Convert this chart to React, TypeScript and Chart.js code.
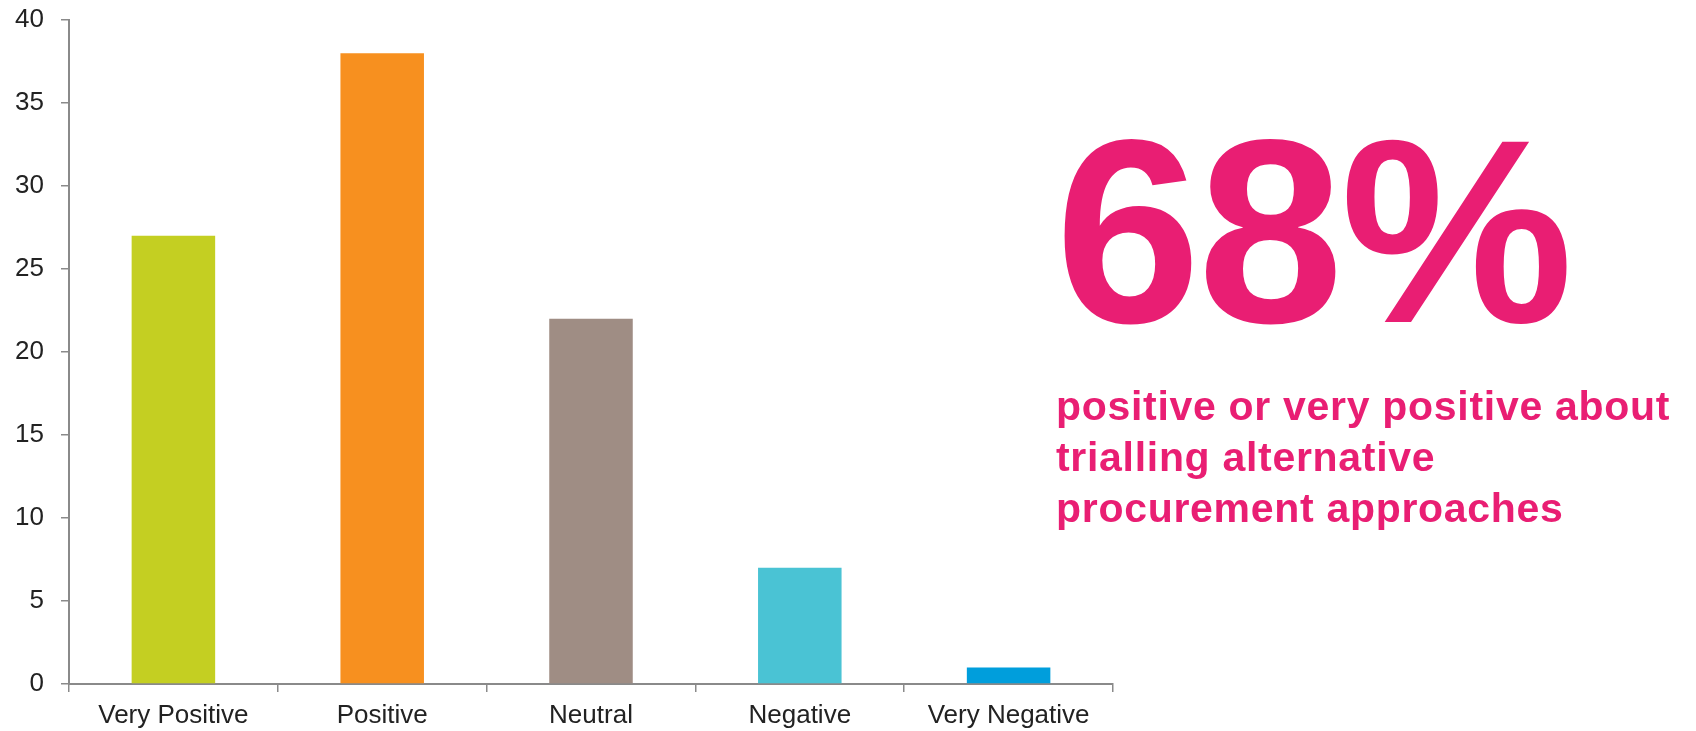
import React, { useEffect, useRef } from "react";
import { Chart, registerables } from "chart.js";

Chart.register(...registerables);

const categories = ["Very Positive", "Positive", "Neutral", "Negative", "Very Negative"];
const responses = [27, 38, 22, 7, 1];
const barColors = ["#C4CF22", "#F7901F", "#9F8D84", "#4AC3D4", "#009EDC"];
const yMin = 0;
const yMax = 40;
const yStep = 5;
const headline = "68%";
const blurbLines = [
  "positive or very positive about",
  "trialling alternative",
  "procurement approaches",
];

const FONT = "'Liberation Sans', Arial, Helvetica, sans-serif";
const PINK = "#E91E73";
const AXIS = "#8A8A8A";
const LABEL = "#222222";

export default function App() {
  const canvasRef = useRef<HTMLCanvasElement | null>(null);

  useEffect(() => {
    const canvas = canvasRef.current;
    if (!canvas) return;
    const chart = new Chart(canvas, {
      type: "bar",
      data: {
        labels: categories,
        datasets: [
          {
            data: responses,
            backgroundColor: barColors,
            borderWidth: 0,
            barPercentage: 0.4,
            categoryPercentage: 1,
          },
        ],
      },
      options: {
        animation: false,
        responsive: false,
        maintainAspectRatio: false,
        layout: { padding: { top: 20, left: 0, right: 17, bottom: 0 } },
        plugins: {
          legend: { display: false },
          tooltip: { enabled: false },
          title: { display: false },
        },
        scales: {
          x: {
            grid: {
              display: true,
              drawOnChartArea: false,
              drawTicks: true,
              tickLength: 8,
              color: AXIS,
              lineWidth: 1.5,
            },
            border: { display: true, color: AXIS, width: 2 },
            ticks: {
              color: LABEL,
              padding: 8,
              font: { family: FONT, size: 26 },
              maxRotation: 0,
              autoSkip: false,
            },
            afterFit: (scale: any) => {
              scale.height = 47;
              scale.paddingLeft = 0;
              scale.paddingRight = 0;
            },
          },
          y: {
            min: yMin,
            max: yMax,
            grid: {
              display: true,
              drawOnChartArea: false,
              drawTicks: true,
              tickLength: 8,
              color: AXIS,
              lineWidth: 1.5,
            },
            border: { display: true, color: AXIS, width: 2 },
            ticks: {
              stepSize: yStep,
              color: LABEL,
              padding: 17,
              font: { family: FONT, size: 26 },
            },
            afterFit: (scale: any) => {
              scale.width = 69;
              scale.paddingTop = 0;
              scale.paddingBottom = 0;
            },
          },
        },
      },
    });
    return () => {
      chart.destroy();
    };
  }, []);

  return (
    <div
      style={{
        position: "absolute",
        left: 0,
        top: 0,
        width: 1696,
        height: 731,
        background: "#ffffff",
        overflow: "hidden",
      }}
    >
      <canvas
        ref={canvasRef}
        width={1130}
        height={731}
        style={{ position: "absolute", left: 0, top: 0, width: 1130, height: 731 }}
      />
      <div
        style={{
          position: "absolute",
          left: 1055,
          top: 101,
          fontFamily: FONT,
          fontWeight: 700,
          fontSize: 262,
          lineHeight: "262px",
          letterSpacing: "-3px",
          color: PINK,
          whiteSpace: "nowrap",
        }}
      >
        {headline}
      </div>
      <div
        style={{
          position: "absolute",
          left: 1056,
          top: 381,
          fontFamily: FONT,
          fontWeight: 700,
          fontSize: 41,
          lineHeight: "51px",
          letterSpacing: "0.7px",
          color: PINK,
          whiteSpace: "nowrap",
        }}
      >
        {blurbLines.map((l, i) => (
          <div key={i}>{l}</div>
        ))}
      </div>
    </div>
  );
}
